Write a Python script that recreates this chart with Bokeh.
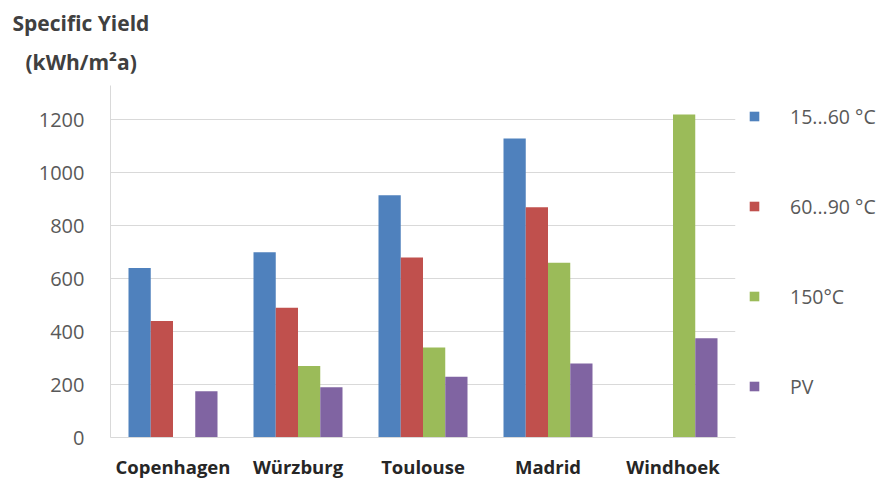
import numpy as np
from bokeh.plotting import figure
from bokeh.models import ColumnDataSource, FactorRange, FixedTicker, Legend, LegendItem, Title, Range1d
from bokeh.transform import dodge
from bokeh.embed import file_html
from bokeh.resources import INLINE

# Specific yield per site and technology (kWh/m²a); nan = not shown
cities = ["Copenhagen", "Würzburg", "Toulouse", "Madrid", "Windhoek"]
low_temp = [640, 700, 915, 1130, np.nan]      # 15...60 °C
mid_temp = [440, 490, 680, 870, np.nan]       # 60...90 °C
high_temp = [np.nan, 270, 340, 660, 1220]     # 150°C
pv = [175, 190, 230, 280, 375]                # PV

series_names = ["15...60 °C", "60...90 °C", "150°C", "PV"]
series_keys = ["low", "mid", "high", "pv"]
colors = ["#4F81BD", "#C0504D", "#9BBB59", "#8064A2"]
y_ticks = [0, 200, 400, 600, 800, 1000, 1200]

FONT = "Open Sans"

source = ColumnDataSource(dict(city=cities, low=low_temp, mid=mid_temp, high=high_temp, pv=pv))

p = figure(
    frame_width=625, frame_height=352,
    x_range=FactorRange(*cities), y_range=Range1d(0, 1330),
    output_backend="svg", toolbar_location=None,
    min_border_left=110, min_border_right=145, min_border_top=85, min_border_bottom=41,
)
p.outline_line_color = None
p.background_fill_color = "white"
p.border_fill_color = "white"

bar_w = 0.178
offsets = [-1.5 * bar_w, -0.5 * bar_w, 0.5 * bar_w, 1.5 * bar_w]
renderers = []
for key, off, col in zip(series_keys, offsets, colors):
    r = p.vbar(x=dodge("city", off, range=p.x_range), top=key, width=bar_w,
               bottom=0, source=source, fill_color=col, line_color=None)
    renderers.append(r)

# axes
p.yaxis.ticker = FixedTicker(ticks=y_ticks)
p.yaxis.major_label_text_font = FONT
p.yaxis.major_label_text_font_size = "20px"
p.yaxis.major_label_text_color = "#595959"
p.yaxis.axis_line_color = "#d9d9d9"
p.yaxis.major_tick_line_color = None
p.yaxis.minor_tick_line_color = None
p.yaxis.major_label_standoff = 20

p.xaxis.major_label_text_font = FONT
p.xaxis.major_label_text_font_style = "bold"
p.xaxis.major_label_text_font_size = "18.5px"
p.xaxis.major_label_text_color = "#262626"
p.xaxis.axis_line_color = "#d9d9d9"
p.xaxis.major_tick_line_color = None
p.xaxis.major_label_standoff = 10

p.xgrid.grid_line_color = None
p.ygrid.grid_line_color = "#d9d9d9"
p.ygrid.ticker = FixedTicker(ticks=y_ticks)

legend = Legend(
    items=[LegendItem(label=n, renderers=[r]) for n, r in zip(series_names, renderers)],
    location=(13, 37), orientation="vertical",
    glyph_width=12, glyph_height=12, label_height=28, label_standoff=30, spacing=62,
    margin=0, padding=0,
    label_text_font=FONT, label_text_font_size="19.5px", label_text_color="#595959",
    border_line_color=None, background_fill_alpha=0,
)
p.add_layout(legend, "right")

# y-axis caption, two lines above the axis (first added sits nearest the plot)
p.add_layout(Title(text="(kWh/m²a)", align="left", offset=-85, standoff=19,
                   text_line_height=0.8,
                   text_font=FONT, text_font_style="bold", text_font_size="21px",
                   text_color="#404040"), "above")
p.add_layout(Title(text="Specific Yield", align="left", offset=-98, standoff=0,
                   text_font=FONT, text_font_style="bold", text_font_size="21px",
                   text_color="#404040"), "above")

open("out.html", "w").write(file_html(p, INLINE))
